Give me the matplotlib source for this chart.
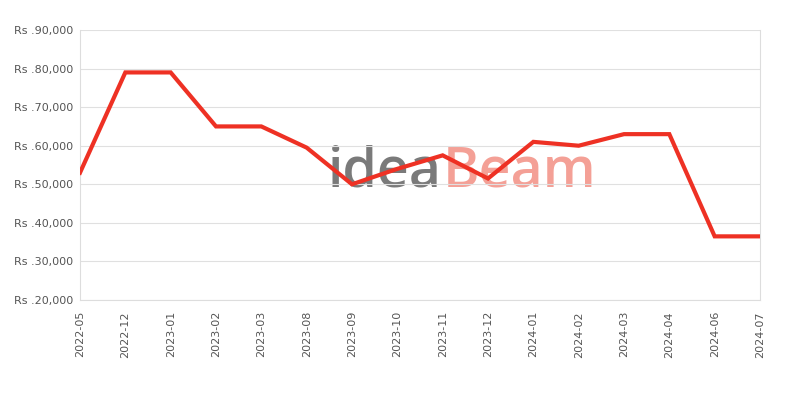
import matplotlib
matplotlib.use('Agg')
import matplotlib.pyplot as plt
from matplotlib.ticker import FuncFormatter

months = ['2022-05', '2022-12', '2023-01', '2023-02', '2023-03', '2023-08',
          '2023-09', '2023-10', '2023-11', '2023-12', '2024-01', '2024-02',
          '2024-03', '2024-04', '2024-06', '2024-07']
prices = [53000, 79000, 79000, 65000, 65000, 59500, 50000, 54000, 57500,
          51500, 61000, 60000, 63000, 63000, 36500, 36500]
yticks = [20000, 30000, 40000, 50000, 60000, 70000, 80000, 90000]

fig = plt.figure(figsize=(8, 4), dpi=100)
ax = fig.add_axes([0.1, 0.25, 0.85, 0.675])

# watermark, kept under the line
ax.text(0.552, 0.568, 'idea', fontsize=40, color='#7a7a7a', weight='semibold',
        ha='right', va='center', family='Open Sans',
        transform=fig.transFigure, zorder=1)
ax.text(0.554, 0.568, 'Beam', fontsize=40, color='#f4a096', weight='semibold',
        ha='left', va='center', family='Open Sans',
        transform=fig.transFigure, zorder=1)

x = list(range(len(months)))
ax.plot(x, prices, color='#ee3124', lw=3, solid_joinstyle='miter', zorder=3)

ax.set_xlim(0, len(months) - 1)
ax.set_ylim(20000, 90000)
ax.set_yticks(yticks)
ax.yaxis.set_major_formatter(FuncFormatter(lambda v, p: 'Rs .{:,.0f}'.format(v)))
ax.set_xticks(x)
ax.set_xticklabels(months, rotation=90)
ax.tick_params(axis='both', length=0, labelsize=8, colors='#555555', pad=5)
ax.tick_params(axis='x', pad=8)
ax.grid(axis='y', color='#e0e0e0', lw=0.8)
for s in ax.spines.values():
    s.set_color('#dddddd')
    s.set_linewidth(0.8)
ax.spines['top'].set_visible(False)
ax.set_facecolor('none')

fig.savefig('out.png', dpi=100)
